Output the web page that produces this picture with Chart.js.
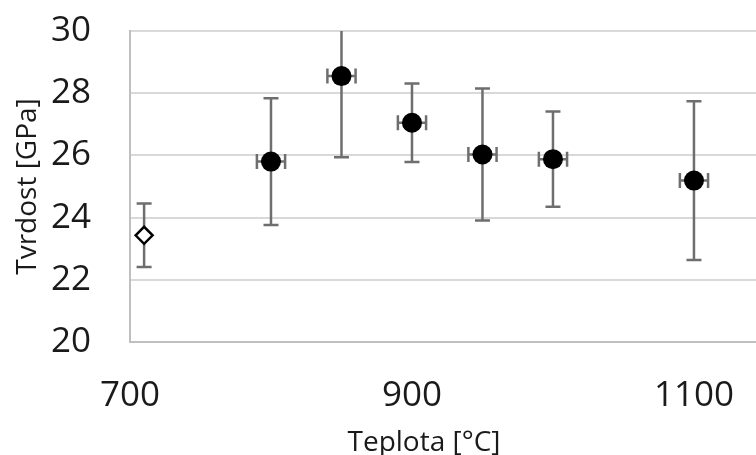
<!DOCTYPE html>
<html>
<head>
<meta charset="utf-8">
<script src="https://cdn.jsdelivr.net/npm/chart.js@4.4.1/dist/chart.umd.min.js"></script>
<style>
  html, body { margin: 0; padding: 0; background: #fff; overflow: hidden; }
  #wrap { width: 756px; height: 455px; }
</style>
</head>
<body>
<div id="wrap"><canvas id="c" width="756" height="455"></canvas></div>
<script>
// Reference sample (hollow diamond)
const refTemp = [710];
const refHardness = [23.43];
const refHardnessErr = [1.02];
const refTempErr = [0];

// Annealed samples (filled circles)
const temps = [800, 850, 900, 950, 1000, 1100];
const hardness = [25.80, 28.55, 27.05, 26.03, 25.88, 25.19];
const hardnessErr = [2.04, 2.61, 1.26, 2.12, 1.53, 2.55];
const tempErr = [10, 10, 10, 10, 10, 10];

const xTicks = [700, 900, 1100];
const yTicks = [20, 22, 24, 26, 28, 30];

const xTitle = 'Teplota [°C]';
const yTitle = 'Tvrdost [GPa]';

const FONT = "'Open Sans', 'DejaVu Sans', sans-serif";

function toPoints(xs, ys) { return xs.map((x, i) => ({ x: x, y: ys[i] })); }

const errorBars = {
  id: 'errorBars',
  beforeDatasetsDraw(chart) {
    const ctx = chart.ctx;
    const xs = chart.scales.x, ys = chart.scales.y;
    const ca = chart.chartArea;
    ctx.save();
    ctx.beginPath();
    ctx.rect(ca.left, ca.top, ca.right - ca.left, ca.bottom - ca.top);
    ctx.clip();
    ctx.strokeStyle = '#6e6e6e';
    ctx.lineWidth = 2.5;
    const cap = 7.5;
    chart.data.datasets.forEach(ds => {
      ds.data.forEach((p, i) => {
        const px = xs.getPixelForValue(p.x);
        const py = ys.getPixelForValue(p.y);
        const ey = ds.yErr[i], ex = ds.xErr[i];
        if (ey) {
          const t = ys.getPixelForValue(p.y + ey);
          const b = ys.getPixelForValue(p.y - ey);
          ctx.beginPath();
          ctx.moveTo(px, t); ctx.lineTo(px, b);
          ctx.moveTo(px - cap, t); ctx.lineTo(px + cap, t);
          ctx.moveTo(px - cap, b); ctx.lineTo(px + cap, b);
          ctx.stroke();
        }
        if (ex) {
          const l = xs.getPixelForValue(p.x - ex);
          const r = xs.getPixelForValue(p.x + ex);
          ctx.beginPath();
          ctx.moveTo(l, py); ctx.lineTo(r, py);
          ctx.moveTo(l, py - cap); ctx.lineTo(l, py + cap);
          ctx.moveTo(r, py - cap); ctx.lineTo(r, py + cap);
          ctx.stroke();
        }
      });
    });
    ctx.restore();
  }
};

const axisTitles = {
  id: 'axisTitles',
  afterDraw(chart) {
    const ctx = chart.ctx;
    const ca = chart.chartArea;
    ctx.save();
    ctx.fillStyle = '#1a1a1a';
    ctx.font = '28px ' + FONT;
    ctx.textAlign = 'center';
    ctx.textBaseline = 'alphabetic';
    ctx.fillText(xTitle, 424, 451);
    ctx.translate(36, (ca.top + ca.bottom) / 2);
    ctx.rotate(-Math.PI / 2);
    ctx.fillText(yTitle, 0, 0);
    ctx.restore();
  }
};

new Chart(document.getElementById('c'), {
  type: 'scatter',
  data: {
    datasets: [
      {
        data: toPoints(refTemp, refHardness),
        yErr: refHardnessErr,
        xErr: refTempErr,
        pointStyle: 'rectRot',
        pointRadius: 8.5,
        pointBorderWidth: 2.5,
        pointBackgroundColor: '#ffffff',
        pointBorderColor: '#000000'
      },
      {
        data: toPoints(temps, hardness),
        yErr: hardnessErr,
        xErr: tempErr,
        pointStyle: 'circle',
        pointRadius: 10,
        pointBorderWidth: 0,
        pointBackgroundColor: '#000000',
        pointBorderColor: '#000000'
      }
    ]
  },
  options: {
    responsive: false,
    animation: false,
    events: [],
    layout: { autoPadding: false, padding: { top: 31, left: 0, right: 0, bottom: 0 } },
    plugins: { legend: { display: false }, tooltip: { enabled: false } },
    scales: {
      x: {
        type: 'linear',
        min: 700,
        max: 1144,
        afterFit(scale) {
          scale.height = 113;
          scale.paddingLeft = 0; scale.paddingRight = 0;
          scale.paddingTop = 0; scale.paddingBottom = 0;
        },
        afterBuildTicks(scale) { scale.ticks = xTicks.map(v => ({ value: v })); },
        grid: { display: false, drawTicks: false },
        border: { display: true, color: '#bfbfbf', width: 2 },
        ticks: {
          padding: 33,
          color: '#1a1a1a',
          font: { family: FONT, size: 35 },
          maxRotation: 0,
          autoSkip: false,
          callback: v => String(v)
        }
      },
      y: {
        type: 'linear',
        min: 20,
        max: 30,
        afterFit(scale) {
          scale.width = 130;
          scale.paddingLeft = 0; scale.paddingRight = 0;
          scale.paddingTop = 0; scale.paddingBottom = 0;
        },
        afterBuildTicks(scale) { scale.ticks = yTicks.map(v => ({ value: v })); },
        grid: { color: '#d9d9d9', lineWidth: 2, drawTicks: false },
        border: { display: true, color: '#bfbfbf', width: 2 },
        ticks: {
          padding: 39,
          color: '#1a1a1a',
          font: { family: FONT, size: 35 },
          callback: v => String(v)
        }
      }
    }
  },
  plugins: [errorBars, axisTitles]
});
</script>
</body>
</html>
